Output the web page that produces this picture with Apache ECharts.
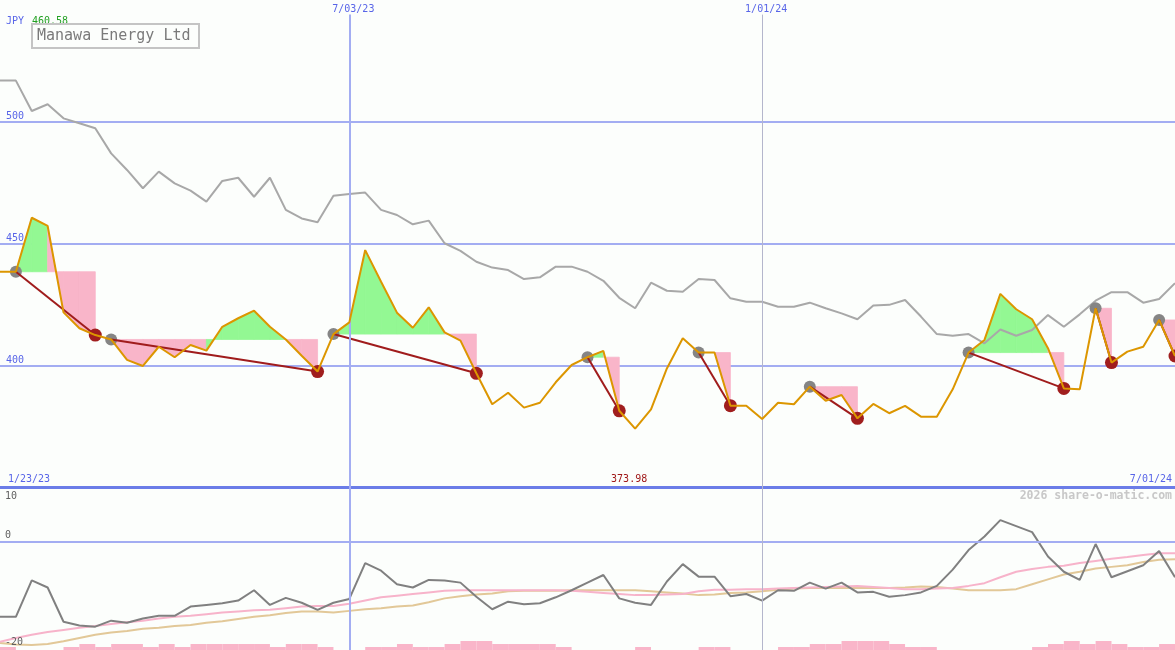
<!DOCTYPE html>
<html>
<head>
<meta charset="utf-8">
<title>Manawa Energy Ltd</title>
<script src="https://cdn.jsdelivr.net/npm/echarts@6/dist/echarts.min.js"></script>
<style>
  html, body { margin: 0; padding: 0; background: #fcfefc; }
  #main { width: 1175px; height: 650px; }
</style>
</head>
<body>
<div id="main"></div>
<script>
// weekly closes, 1/30/23 .. 7/01/24
const dates = [
  '2023-01-30','2023-02-06','2023-02-13','2023-02-20','2023-02-27','2023-03-06','2023-03-13','2023-03-20',
  '2023-03-27','2023-04-03','2023-04-10','2023-04-17','2023-04-24','2023-05-01','2023-05-08','2023-05-15',
  '2023-05-22','2023-05-29','2023-06-05','2023-06-12','2023-06-19','2023-06-26','2023-07-03','2023-07-10',
  '2023-07-17','2023-07-24','2023-07-31','2023-08-07','2023-08-14','2023-08-21','2023-08-28','2023-09-04',
  '2023-09-11','2023-09-18','2023-09-25','2023-10-02','2023-10-09','2023-10-16','2023-10-23','2023-10-30',
  '2023-11-06','2023-11-13','2023-11-20','2023-11-27','2023-12-04','2023-12-11','2023-12-18','2023-12-25',
  '2024-01-01','2024-01-08','2024-01-15','2024-01-22','2024-01-29','2024-02-05','2024-02-12','2024-02-19',
  '2024-02-26','2024-03-04','2024-03-11','2024-03-18','2024-03-25','2024-04-01','2024-04-08','2024-04-15',
  '2024-04-22','2024-04-29','2024-05-06','2024-05-13','2024-05-20','2024-05-27','2024-06-03','2024-06-10',
  '2024-06-17','2024-06-24','2024-07-01'
];
const price = [
  438.4, 438.4, 460.58, 457.2, 421.7, 415.2, 412.4, 410.6, 402.2, 399.7,
  407.6, 403.3, 408.3, 406.0, 415.8, 419.3, 422.4, 415.8, 410.6, 403.9,
  397.4, 412.8, 417.6, 447.3, 434.3, 421.6, 415.4, 423.8, 413.5, 410.1,
  396.7, 384.0, 388.7, 382.6, 384.6, 393.0, 400.1, 403.3, 405.9, 381.3,
  373.98, 381.9, 398.7, 411.1, 405.2, 405.2, 383.4, 383.4, 377.9, 384.6,
  384.0, 391.2, 385.4, 387.8, 378.2, 384.1, 380.3, 383.3, 378.9, 378.9,
  390.1, 405.2, 410.4, 429.3, 423.0, 418.9, 407.0, 390.5, 390.1, 423.4,
  401.1, 405.6, 407.6, 418.6, 403.8
];
const compare = [
  516.9, 516.9, 504.4, 507.2, 501.4, 499.4, 497.3, 487.0, 480.2, 472.7,
  479.5, 474.7, 471.7, 467.2, 475.7, 477.0, 469.2, 477.0, 463.8, 460.3,
  458.7, 469.6, 470.3, 470.9, 463.8, 461.7, 457.9, 459.4, 450.1, 447.0,
  442.5, 440.1, 439.1, 435.4, 436.1, 440.5, 440.5, 438.4, 434.7, 427.7,
  423.4, 433.9, 430.6, 430.2, 435.4, 435.0, 427.5, 426.1, 426.1, 424.0,
  424.0, 425.7, 423.4, 421.3, 418.9, 424.5, 424.8, 426.8, 420.0, 412.8,
  412.1, 412.8, 409.0, 414.7, 412.1, 414.5, 420.6, 415.8, 420.9, 426.5,
  430.0, 430.0, 425.7, 427.2, 433.7
];
const momentum = [
  -13.9, -13.9, -7.2, -8.5, -14.8, -15.5, -15.7, -14.6, -15.0, -14.2,
  -13.7, -13.7, -12.0, -11.7, -11.4, -10.9, -9.0, -11.7, -10.4, -11.3,
  -12.6, -11.3, -10.6, -4.0, -5.4, -7.9, -8.5, -7.1, -7.2, -7.6,
  -10.2, -12.5, -11.1, -11.6, -11.4, -10.3, -9.0, -7.6, -6.2, -10.5,
  -11.3, -11.7, -7.4, -4.2, -6.5, -6.5, -10.1, -9.7, -10.9, -9.0,
  -9.1, -7.6, -8.7, -7.6, -9.4, -9.3, -10.2, -9.9, -9.4, -8.2,
  -5.2, -1.6, 0.9, 3.9, 2.8, 1.7, -2.8, -5.6, -7.1, -0.5,
  -6.6, -5.5, -4.4, -1.8, -6.6
];
const avgFast = [
  -18.5, -17.8, -17.2, -16.7, -16.3, -15.9, -15.6, -15.2, -14.9, -14.6,
  -14.2, -13.9, -13.7, -13.4, -13.1, -12.9, -12.7, -12.6, -12.3, -12.0,
  -11.9, -11.9, -11.5, -10.9, -10.3, -10.0, -9.7, -9.4, -9.1, -9.0,
  -9.0, -9.0, -9.0, -9.0, -9.0, -9.0, -9.1, -9.3, -9.5, -9.7,
  -9.9, -9.9, -9.8, -9.7, -9.2, -8.9, -8.9, -8.8, -8.8, -8.7,
  -8.6, -8.5, -8.4, -8.3, -8.2, -8.4, -8.6, -8.8, -8.8, -8.7,
  -8.6, -8.2, -7.7, -6.6, -5.6, -5.1, -4.7, -4.5, -4.0, -3.6,
  -3.2, -2.9, -2.5, -2.2, -2.2
];
const avgSlow = [
  -18.7, -19.0, -19.1, -18.9, -18.4, -17.8, -17.2, -16.8, -16.5, -16.1,
  -15.9, -15.6, -15.4, -15.0, -14.7, -14.3, -13.9, -13.6, -13.2, -12.9,
  -12.9, -13.1, -12.8, -12.5, -12.3, -12.0, -11.8, -11.2, -10.5, -10.1,
  -9.8, -9.6, -9.2, -9.1, -9.1, -9.1, -9.0, -9.0, -9.0, -9.0,
  -9.0, -9.2, -9.4, -9.6, -9.9, -9.8, -9.5, -9.4, -9.2, -8.9,
  -8.7, -8.6, -8.6, -8.6, -8.6, -8.6, -8.6, -8.5, -8.3, -8.4,
  -8.7, -9.0, -9.0, -9.0, -8.8, -7.9, -7.0, -6.1, -5.6, -5.0,
  -4.7, -4.4, -3.8, -3.4, -3.3
];
// one bar per week interval
const volBars = [
  1, 0, 0, 0, 1, 2, 1, 2, 2, 1, 2, 1, 2, 2, 2, 2, 2, 1, 2, 2,
  1, 0, 0, 1, 1, 2, 1, 1, 2, 3, 3, 2, 2, 2, 2, 1, 0, 0, 0, 0,
  1, 0, 0, 0, 1, 1, 0, 0, 0, 1, 1, 2, 2, 3, 3, 3, 2, 1, 1, 0,
  0, 0, 0, 0, 0, 1, 2, 3, 2, 3, 2, 1, 1, 2
];
const signalStart = [1, 7, 21, 37, 44, 51, 61, 69, 73];
const signalEnd = [6, 20, 30, 39, 46, 54, 67, 70, 74];
const markDates = ['2023-07-03', '2024-01-01'];
const markLabels = ['7/03/23', '1/01/24'];

const BLUE = '#a3adf2';
const LABEL = '#5865e8';
const FONT = '"DejaVu Sans Mono", monospace';
const UP = '#93f893';
const DOWN = '#f9b5c9';

const fills = [];
signalStart.forEach((s, i) => {
  for (let k = s; k < signalEnd[i]; k++) {
    fills.push([k, price[k], k + 1, price[k + 1], price[s]]);
  }
});
const links = signalStart.map((s, i) => [s, price[s], signalEnd[i], price[signalEnd[i]]]);

const chart = echarts.init(document.getElementById('main'));

chart.setOption({
  animation: false,
  backgroundColor: '#fcfefc',
  grid: [
    { left: 0, right: 0, top: 0, height: 487 },
    { left: 0, right: 0, top: 487, height: 163 },
    { left: 0, right: 0, top: 620, height: 30 }
  ],
  xAxis: [
    {
      type: 'category', gridIndex: 0, data: dates, boundaryGap: false,
      axisLine: { show: true, onZero: false, lineStyle: { color: '#6b7de8', width: 3 } },
      axisTick: { show: false }, axisLabel: { show: false }, splitLine: { show: false }
    },
    { type: 'category', gridIndex: 1, data: dates, boundaryGap: false, show: false },
    { type: 'category', gridIndex: 2, data: dates.slice(0, dates.length - 1), boundaryGap: true, show: false }
  ],
  yAxis: [
    {
      type: 'value', gridIndex: 0, min: 350, max: 550, interval: 50,
      axisLine: { show: false }, axisTick: { show: false },
      axisLabel: {
        inside: true, margin: 6, verticalAlign: 'bottom', color: LABEL,
        fontFamily: FONT, fontSize: 10, showMinLabel: false, showMaxLabel: false
      },
      splitLine: { show: true, showMinLine: false, showMaxLine: false, lineStyle: { color: BLUE, width: 2 } }
    },
    { type: 'value', gridIndex: 1, min: -20, max: 10, show: false },
    { type: 'value', gridIndex: 2, min: 0, max: 10, show: false }
  ],
  series: [
    {
      type: 'custom', xAxisIndex: 0, yAxisIndex: 0, z: 1, silent: true,
      data: fills,
      encode: { x: 0, y: 1 },
      renderItem(params, api) {
        const a = api.coord([api.value(0), api.value(1)]);
        const b = api.coord([api.value(2), api.value(3)]);
        const c = api.coord([api.value(2), api.value(4)]);
        const d = api.coord([api.value(0), api.value(4)]);
        const col = api.value(3) >= api.value(4) ? UP : DOWN;
        return {
          type: 'polygon',
          shape: { points: [a, b, c, d] },
          style: { fill: col, stroke: col, lineWidth: 0.8 }
        };
      }
    },
    {
      type: 'line', xAxisIndex: 0, yAxisIndex: 0, z: 2, data: compare,
      symbol: 'none', lineStyle: { color: '#a8a8a8', width: 2 },
      markLine: {
        silent: true, symbol: 'none',
        label: { show: false },
        data: markDates.map((d, i) => [
          { xAxis: d, yAxis: 544, lineStyle: { color: i === 0 ? BLUE : '#b4b6cc', width: i === 0 ? 2 : 1, type: 'solid' } },
          { xAxis: d, yAxis: 350 }
        ])
      }
    },
    {
      type: 'scatter', xAxisIndex: 0, yAxisIndex: 0, z: 3,
      data: signalStart.map(s => [dates[s], price[s]]),
      symbolSize: 12, itemStyle: { color: '#858585', opacity: 1 }
    },
    {
      type: 'scatter', xAxisIndex: 0, yAxisIndex: 0, z: 3,
      data: signalEnd.map(e => [dates[e], price[e]]),
      symbolSize: 13, itemStyle: { color: '#a01e1e', opacity: 1 }
    },
    {
      type: 'custom', xAxisIndex: 0, yAxisIndex: 0, z: 4, silent: true,
      data: links,
      encode: { x: 0, y: 1 },
      renderItem(params, api) {
        const a = api.coord([api.value(0), api.value(1)]);
        const b = api.coord([api.value(2), api.value(3)]);
        return {
          type: 'line',
          shape: { x1: a[0], y1: a[1], x2: b[0], y2: b[1] },
          style: { stroke: '#a01c1c', lineWidth: 2 }
        };
      }
    },
    {
      type: 'line', xAxisIndex: 0, yAxisIndex: 0, z: 5, data: price,
      symbol: 'none', lineStyle: { color: '#dc9600', width: 2 }
    },
    {
      type: 'bar', xAxisIndex: 2, yAxisIndex: 2, z: 1, data: volBars,
      barWidth: '100%', barCategoryGap: '0%', itemStyle: { color: DOWN }, silent: true
    },
    {
      type: 'line', xAxisIndex: 1, yAxisIndex: 1, z: 2, data: avgSlow,
      symbol: 'none', lineStyle: { color: '#e2c898', width: 2 }
    },
    {
      type: 'line', xAxisIndex: 1, yAxisIndex: 1, z: 2, data: avgFast,
      symbol: 'none', lineStyle: { color: '#f7b3ca', width: 2 }
    },
    {
      type: 'line', xAxisIndex: 1, yAxisIndex: 1, z: 3, data: momentum,
      symbol: 'none', lineStyle: { color: '#808080', width: 2 },
      markLine: {
        silent: true, symbol: 'none', label: { show: false },
        data: [
          { yAxis: 0, lineStyle: { color: BLUE, width: 2, type: 'solid' } },
          { xAxis: markDates[0], lineStyle: { color: BLUE, width: 2, type: 'solid' } },
          { xAxis: markDates[1], lineStyle: { color: '#b4b6cc', width: 1, type: 'solid' } }
        ]
      }
    }
  ]
});

// text labels placed from the axes
const px = d => chart.convertToPixel({ xAxisIndex: 0 }, d);
const py1 = v => chart.convertToPixel({ yAxisIndex: 1 }, v);
const maxP = Math.max(...price);
const minP = Math.min(...price);
const minIdx = price.indexOf(minP);
const txt = (x, y, text, fill, align) => ({
  type: 'text', x: x, y: y, z: 100,
  style: { text: text, fill: fill, font: '10px ' + FONT, textAlign: align || 'left', textVerticalAlign: 'middle' }
});

const graphics = [
  txt(6, 21, 'JPY', LABEL),
  txt(32, 21, maxP.toFixed(2), '#22a022'),
  { type: 'rect', z: 100, shape: { x: 32, y: 24, width: 167, height: 24 },
    style: { fill: '#fcfefc', stroke: '#c4c4c4', lineWidth: 2 } },
  { type: 'text', z: 101, x: 37, y: 36,
    style: { text: 'Manawa Energy Ltd', fill: '#7a7a7a', font: '15px ' + FONT, textVerticalAlign: 'middle' } },
  txt(8, 479, '1/23/23', LABEL),
  txt(1172, 479, '7/01/24', LABEL, 'right'),
  txt(px(dates[minIdx]) - 6, 479, minP.toFixed(2), '#a01818', 'center'),
  { type: 'text', z: 100, x: 1172, y: 496,
    style: { text: '2026 share-o-matic.com', fill: '#c8c8c8', font: 'bold 11.5px ' + FONT,
      textAlign: 'right', textVerticalAlign: 'middle' } },
  txt(5, py1(10) + 9, '10', '#606060'),
  txt(5, py1(0) - 6, '0', '#606060'),
  txt(5, py1(-20) - 8, '-20', '#606060')
];
markDates.forEach((d, i) => graphics.push(txt(px(d) + 4, 9, markLabels[i], LABEL, 'center')));

chart.setOption({ graphic: graphics });
</script>
</body>
</html>
